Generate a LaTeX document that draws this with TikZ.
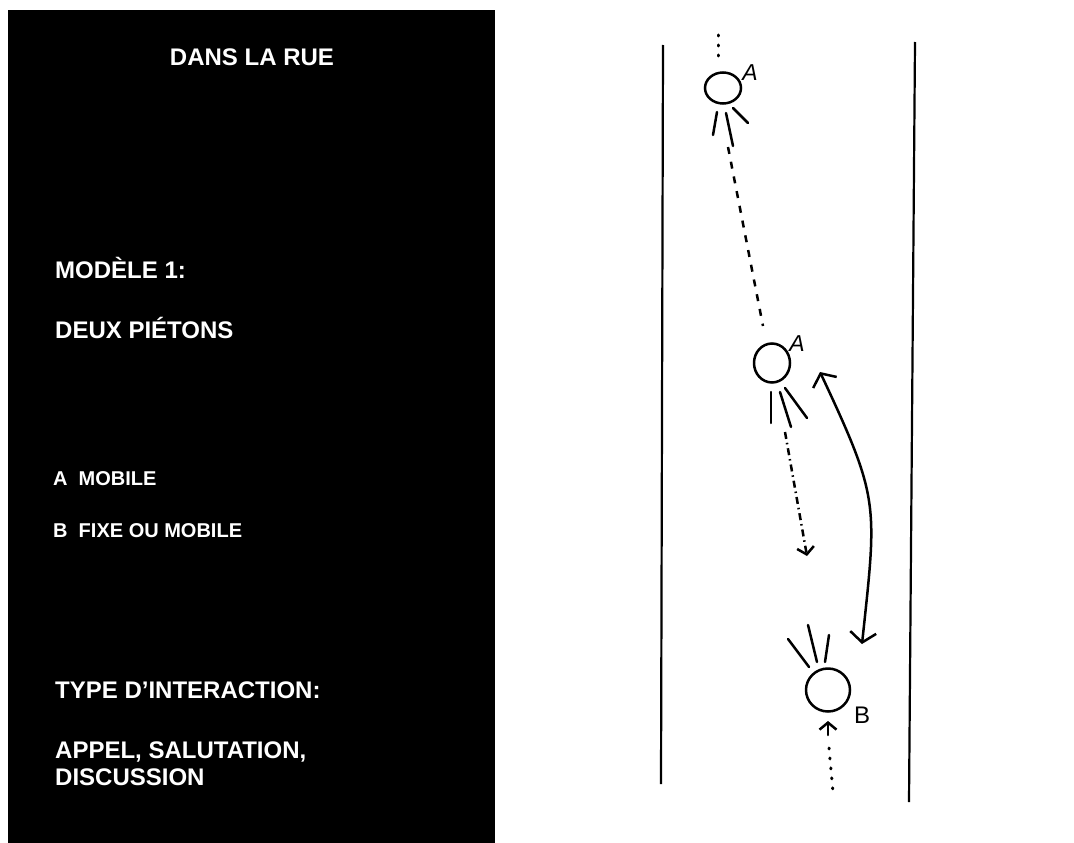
\documentclass[tikz,border=0pt]{standalone}
\usepackage{fontspec}
\setmainfont{Liberation Sans}
\usetikzlibrary{arrows.meta,shapes.geometric}
\begin{document}
\begin{tikzpicture}[x=1pt,y=-1pt,
  pen/.style={line width=2.5pt, line cap=round},
  ped/.style={draw, ellipse, line width=2.5pt, inner sep=0pt},
  lbl/.style={text=white, font=\fontsize{24}{28}\selectfont\bfseries, anchor=base west, inner sep=0pt},
  smalllbl/.style={lbl, font=\fontsize{20}{24}\selectfont\bfseries},
  hand/.style={font=\fontsize{23}{23}\selectfont\itshape, inner sep=0pt},
  handup/.style={font=\fontsize{24}{24}\selectfont, inner sep=0pt},
  dotline/.style={line width=3pt, line cap=round, dash pattern=on 1pt off 9pt},
  dashline/.style={line width=2.5pt, dash pattern=on 7pt off 8pt},
  dashdotline/.style={line width=2.5pt, dash pattern=on 7pt off 4pt on 1.5pt off 4pt},
  bigbarb/.style={{Straight Barb[length=10pt,width=26pt,line width=2.5pt]}-{Straight Barb[length=10pt,width=26pt,line width=2.5pt]}},
  smallbarb/.style={-{Straight Barb[length=7pt,width=17pt,line width=2.5pt]}}
]
\useasboundingbox (0,0) rectangle (1074,843);
\fill[white] (0,0) rectangle (1074,843);
\fill[black] (8,10) rectangle (495,843);

% texts
\node[lbl, anchor=base] (title) at (252,66) {DANS LA RUE};
\node[lbl] (t1) at (55,278) {MODÈLE 1:};
\node[lbl] (t2) at (55,338) {DEUX PIÉTONS};
\node[smalllbl] (t3) at (53,485) {A\ \ MOBILE};
\node[smalllbl] (t4) at (53,537) {B\ \ FIXE OU MOBILE};
\node[lbl] (t5) at (55,698) {TYPE D'INTERACTION:};
\node[lbl] (t6) at (55,758) {APPEL, SALUTATION,};
\node[lbl] (t7) at (55,785) {DISCUSSION};

% road edges
\draw[line width=2.2pt] (663,45) -- (661,784);
\draw[line width=2.2pt] (915,42) -- (909,802);

% pedestrians
\node[ped, minimum width=36pt, minimum height=31pt] (A1) at (723,88) {};
\node[ped, minimum width=36pt, minimum height=39pt] (A2) at (772,363) {};
\node[ped, minimum width=44pt, minimum height=43pt] (B) at (828,690) {};
\node[hand] (lA1) at (750,73) {A};
\node[hand] (lA2) at (797,344) {A};
\node[handup] (lB) at (862,715) {B};

% rays
\draw[pen] (717,112) -- (713,135);
\draw[pen] (726,113) -- (733,146);
\draw[pen] (733,108) -- (748,123);
\draw[pen] (771,392) -- (771,423);
\draw[pen] (780,392) -- (791,427);
\draw[pen] (785,388) -- (807,418);
\draw[pen] (788,639) -- (809,667);
\draw[pen] (808,625) -- (817,662);
\draw[pen] (829,635) -- (825,662);

% paths
\coordinate (p0) at (718,35);
\coordinate (p1) at (718,64);
\draw[dotline] (p0) -- (p1);
\coordinate (d0) at (728,147);
\coordinate (d1) at (763,326);
\draw[dashline] (d0) -- (d1);
\coordinate (e0) at (785,432);
\coordinate (e1) at (807,556);
\draw[dashdotline, smallbarb] (e0) -- (e1);
\coordinate (b0) at (828,735);
\coordinate (b1) at (828,721);
\draw[pen, smallbarb] (b0) -- (b1);
\coordinate (f0) at (829,748);
\coordinate (f1) at (833,792);
\draw[dotline] (f0) -- (f1);
\coordinate (c0) at (820,372);
\coordinate (c1) at (862,644);
\draw[line width=2.5pt, bigbarb] (c0) .. controls (880,500) and (877,503) .. (c1);
\end{tikzpicture}
\end{document}
